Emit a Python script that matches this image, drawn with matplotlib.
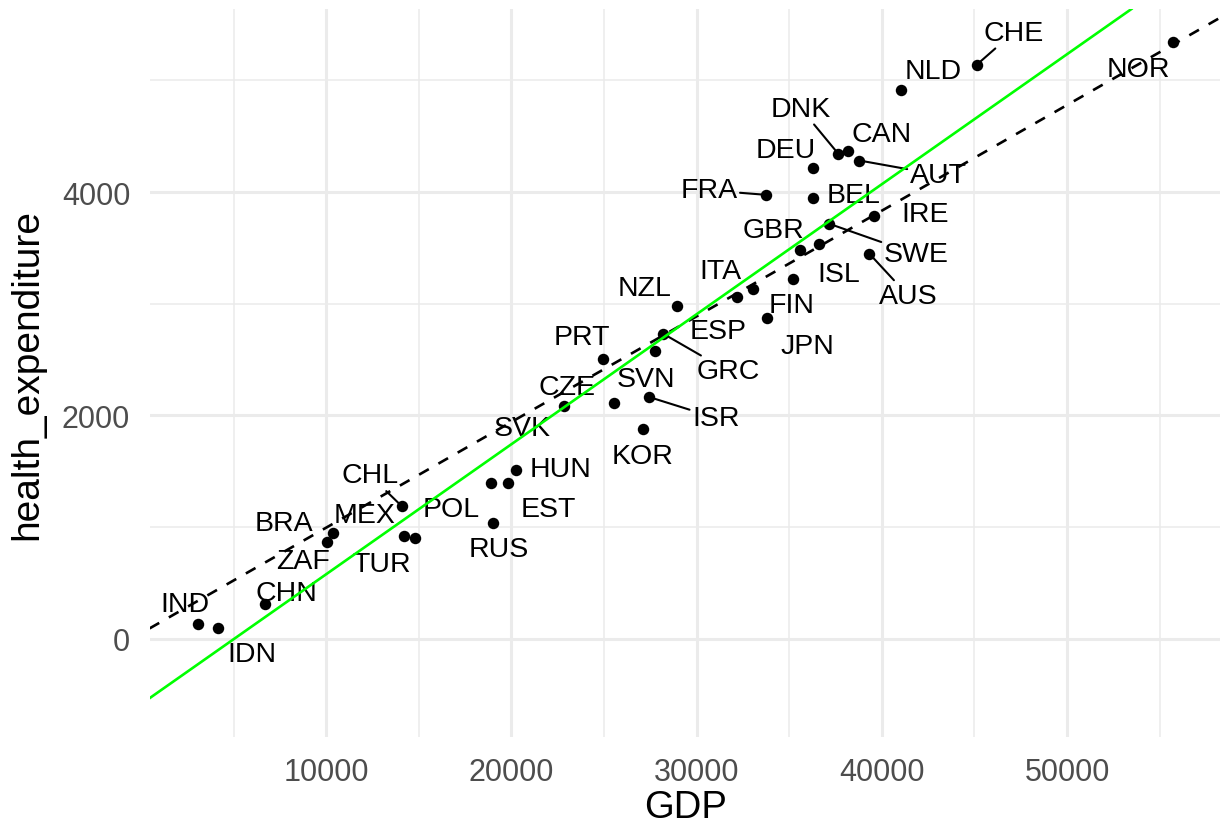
import matplotlib
matplotlib.use("Agg")
import matplotlib.pyplot as plt
import numpy as np

# ---------------- data ----------------
countries = ["CHE", "NLD", "NOR", "DNK", "CAN", "DEU", "AUT", "FRA", "BEL", "IRE",
             "GBR", "SWE", "ITA", "ISL", "NZL", "AUS", "FIN", "ESP", "PRT", "JPN",
             "GRC", "SVN", "CZE", "SVK", "ISR", "KOR", "HUN", "CHL", "EST", "POL",
             "BRA", "MEX", "RUS", "ZAF", "TUR", "CHN", "IND", "IDN"]
gdp = [45120, 41020, 55700, 37650, 38190, 36300, 38790, 33730, 36270, 39580,
       35580, 37170, 33060, 36610, 28960, 39330, 35190, 32200, 24930, 33820,
       28200, 27760, 25540, 22850, 27450, 27090, 20240, 14080, 19840, 18890,
       10390, 14220, 19030, 10070, 14800, 6700, 3100, 4180]
health_expenditure = [5139, 4912, 5342, 4342, 4363, 4214, 4282, 3975, 3945, 3784,
                      3485, 3715, 3133, 3536, 2979, 3447, 3223, 3059, 2507, 2874,
                      2731, 2576, 2110, 2080, 2164, 1880, 1513, 1188, 1397, 1397,
                      946, 919, 1038, 866, 904, 313, 134, 98]

# reference lines (intercept, slope)
dashed_line = (49, 0.0946)
green_line = (-586, 0.1164)

# ---------------- layout / style ----------------
# label centre offsets from the point in pixels (dx right, dy up)
label_offsets = {
    "CHE": (36.6, 35.3), "NLD": (32.6, 22), "NOR": (-34.4, -23.4), "DNK": (-37.3, 48.3),
    "CAN": (33.4, 21), "DEU": (-27.3, 21), "AUT": (79, -11), "FRA": (-57, 7.7),
    "BEL": (40.6, 6.6), "IRE": (50.7, 5.6), "GBR": (-26, 22.4), "SWE": (87, -27.3),
    "ITA": (-32.6, 20.7), "ISL": (19.3, -27.3), "NZL": (-33, 21.3), "AUS": (39.1, -39),
    "FIN": (-1, -22.7), "ESP": (-19, -30.7), "PRT": (-21.2, 25), "JPN": (40, -25),
    "GRC": (65, -34.3), "SVN": (-9, -25), "CZE": (-46.7, 19.3), "SVK": (-42.3, -18.3),
    "ISR": (66.7, -17.7), "KOR": (0, -24), "HUN": (44.3, 4.3), "CHL": (-31.7, 34),
    "EST": (40.4, -22.7), "POL": (-40, -22.7), "BRA": (-49.3, 13.6), "MEX": (-39.3, 24.6),
    "RUS": (5, -23.3), "ZAF": (-24, -15.7), "TUR": (-33.3, -22.7), "CHN": (21.7, 14.3),
    "IND": (-13.3, 23.3), "IDN": (33.4, -22.7),
}
segment_labels = {"CHE", "DNK", "AUT", "FRA", "SWE", "AUS", "GRC", "ISR", "CHL"}

FONT = ["Liberation Sans", "DejaVu Sans"]
plt.rcParams["font.family"] = FONT

W, H = 1220, 828
fig = plt.figure(figsize=(W / 100, H / 100), dpi=100)
fig.patch.set_facecolor("white")

left_px, right_px, top_px, bottom_px = 149.6, 1221.4, 10.0, 738.4
ax = fig.add_axes([left_px / W, (H - bottom_px) / H,
                   (right_px - left_px) / W, (bottom_px - top_px) / H])
ax.set_facecolor("white")

# limits: ggplot-style 5% expansion
xmin, xmax = min(gdp), max(gdp)
ylo = min(min(health_expenditure), green_line[0])
yhi = max(health_expenditure)
xr, yr = xmax - xmin, yhi - ylo
ax.set_xlim(xmin - 0.05 * xr, xmax + 0.05 * xr)
ax.set_ylim(ylo - 0.05 * yr, yhi + 0.05 * yr)

ax.set_xticks([10000, 20000, 30000, 40000, 50000])
ax.set_xticks([5000, 15000, 25000, 35000, 45000, 55000], minor=True)
ax.set_yticks([0, 2000, 4000])
ax.set_yticks([1000, 3000, 5000], minor=True)
ax.grid(which="major", color="#EBEBEB", lw=2.2)
ax.grid(which="minor", color="#EBEBEB", lw=1.1)
ax.set_axisbelow(True)
for s in ax.spines.values():
    s.set_visible(False)
ax.tick_params(which="both", length=0)
ax.tick_params(axis="both", which="major", labelsize=22, labelcolor="#4D4D4D", pad=14)

# lines
ax.axline((0, dashed_line[0]), slope=dashed_line[1], color="black", lw=1.9,
          linestyle=(0, (4.2, 4.2)), zorder=5)
ax.axline((0, green_line[0]), slope=green_line[1], color="#00FF00", lw=1.9, zorder=5)

# points
ax.scatter(gdp, health_expenditure, s=68, color="black", zorder=3, linewidths=0)

# labels
cap_half = 10.2
for c, x, y in zip(countries, gdp, health_expenditure):
    dx, dy = label_offsets[c]
    kw = {}
    if c in segment_labels:
        kw["arrowprops"] = dict(arrowstyle="-", color="black", lw=1.5,
                                shrinkA=0, shrinkB=0)
    ax.annotate(c, xy=(x, y), xytext=(dx, dy - cap_half), textcoords="offset pixels",
                ha="center", va="baseline", fontsize=20.5, color="black",
                zorder=4, **kw)

ax.set_xlabel("GDP", fontsize=27.5, color="black")
ax.set_ylabel("health_expenditure", fontsize=28, color="black")
ax.xaxis.set_label_coords(0.5, (bottom_px - 790) / (bottom_px - top_px))
ax.yaxis.set_label_coords((45 - left_px) / (right_px - left_px), 0.5)

fig.savefig("out.png", dpi=100, facecolor="white")
